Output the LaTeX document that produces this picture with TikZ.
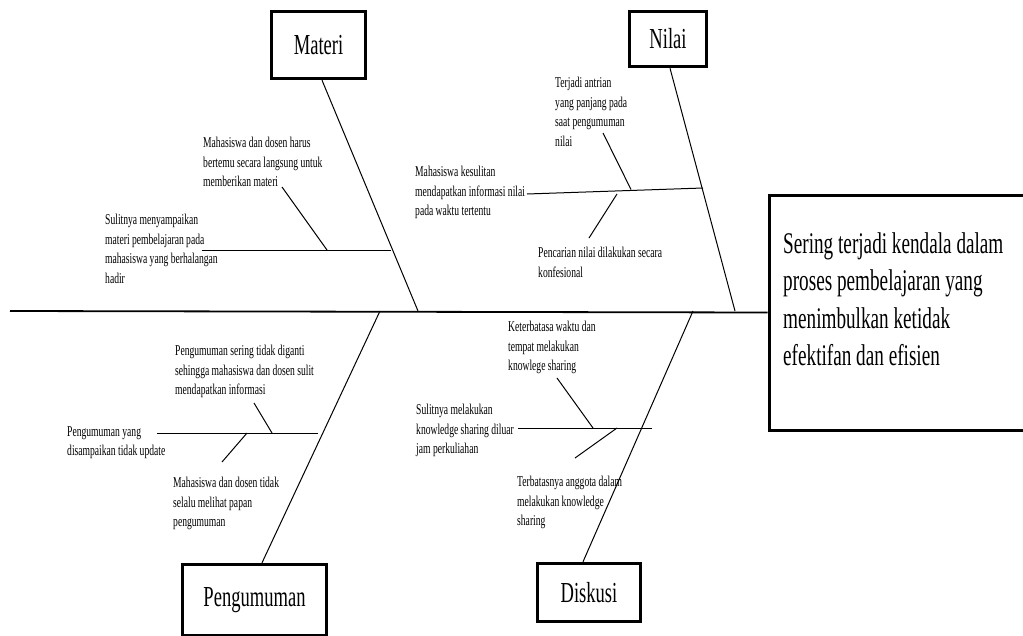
\documentclass[tikz,border=0pt]{standalone}
\usepackage{fontspec}
\setmainfont{Liberation Serif}[FakeStretch=0.64]
\usepackage{tikz}
\usetikzlibrary{calc,positioning}
\tikzset{
  catbox/.style={draw, line width=3.4pt, minimum width=94pt, text centered, minimum 
  height=67pt, font=\fontsize{29}{34}\selectfont},
headbox/.style = {rectangle, draw, line width=3pt, minimum width=290pt, minimum 
height=235pt, anchor=north west},
effect/.style = {anchor=north west, inner sep=0pt, align=left, 
font=\fontsize{30}{37.5}\selectfont},
cause/.style={anchor=north west, inner sep=0pt, align=left, 
font=\fontsize{15}{19.6}\selectfont},
bone/.style={line width=1pt},
spine/.style={line width=1.8pt}
}

\begin{document}
\begin{tikzpicture}[x=1pt,y=-1pt]
			\useasboundingbox (0,0) rectangle (1023,635);
			\node (E) [headbox] at (767.5,193.5) {};
			\node (S) [effect] at (783,232) {Sering terjadi kendala dalam\\proses 
			pembelajaran yang\\menimbulkan ketidak\\efektifan dan efisien};
			\node (M) [catbox] at (318.5,45) {Materi};
			\node (N) [catbox,minimum width=77pt,minimum height=55pt] at (668,39) 
			{Nilai};
			\node (P) [catbox,minimum width=144pt,minimum height=71pt] at (254.5,600) 
			{Pengumuman};
			\node (D) [catbox,minimum width=103pt,minimum height=58pt] at 
			(589,592.5) {Diskusi};
			\node (M1) [cause] at (203,137) {Mahasiswa dan dosen harus\\bertemu 
			secara langsung untuk\\memberikan materi};
			\node (M2) [cause] at (105,214) {Sulitnya menyampaikan\\materi 
			pembelajaran pada\\mahasiswa yang berhalangan\\hadir};
			\node (N1) [cause] at (555,77) {Terjadi antrian\\yang panjang pada\\saat 
			pengumuman\\nilai};
			\node (N2) [cause] at (415,166) {Mahasiswa kesulitan\\mendapatkan 
			informasi nilai\\pada waktu tertentu};
			\node (N3) [cause] at (538,247) {Pencarian nilai dilakukan 
			secara\\konfesional};
			\node (P1) [cause] at (175,345) {Pengumuman sering tidak 
			diganti\\sehingga mahasiswa dan dosen sulit\\mendapatkan informasi};
			\node (P2) [cause] at (67,426) {Pengumuman yang\\disampaikan tidak 
			update};
			\node (P3) [cause] at (173,477) {Mahasiswa dan dosen tidak\\selalu 
			melihat papan\\pengumuman};
			\node (D1) [cause] at (508,321) {Keterbatasa waktu dan\\tempat 
			melakukan\\knowlege sharing};
			\node (D2) [cause] at (416,404) {Sulitnya melakukan\\knowledge sharing 
			diluar\\jam perkuliahan};
			\node (D3) [cause] at (517,476) {Terbatasnya anggota dalam\\melakukan 
			knowledge\\sharing};
			\coordinate (T) at (10,311);
			\coordinate (M0) at (418,311);
			\coordinate (N0) at (735,311);
			\coordinate (P0) at (380,311);
			\coordinate (D0) at (693,311);
			\coordinate (Ma) at (202,250);
			\coordinate (Mb) at (391,250);
			\coordinate (Mc) at (282,187);
			\coordinate (Md) at (327,250);
			\coordinate (Na) at (527,194);
			\coordinate (Nb) at (703,188);
			\coordinate (Nc) at (603,133);
			\coordinate (Nd) at (631,189.5);
			\coordinate (Ne) at (617,194);
			\coordinate (Nf) at (589,238);
			\coordinate (Pa) at (157,433);
			\coordinate (Pb) at (318,433);
			\coordinate (Pc) at (254,403);
			\coordinate (Pd) at (272,433);
			\coordinate (Pe) at (247,433);
			\coordinate (Pf) at (222,462);
			\coordinate (Da) at (518,428);
			\coordinate (Db) at (652,428);
			\coordinate (Dc) at (557,378);
			\coordinate (Dd) at (593,428);
			\coordinate (De) at (617,428);
			\coordinate (Df) at (575,458);
			\path (T) edge [spine] (E.west);
			\path ([xshift=3.5pt]M.south) edge [bone] (M0);
			\path ([xshift=2pt]N.south) edge [bone] (N0);
			\path ([xshift=7.5pt]P.north) edge [bone] (P0);
			\path ([xshift=-6pt]D.north) edge [bone] (D0);
			\path (Ma) edge [bone] (Mb);
			\path (Mc) edge [bone] (Md);
			\path (Na) edge [bone] (Nb);
			\path (Nc) edge [bone] (Nd);
			\path (Ne) edge [bone] (Nf);
			\path (Pa) edge [bone] (Pb);
			\path (Pc) edge [bone] (Pd);
			\path (Pe) edge [bone] (Pf);
			\path (Da) edge [bone] (Db);
			\path (Dc) edge [bone] (Dd);
			\path (De) edge [bone] (Df);
			\end{tikzpicture}
\end{document}
